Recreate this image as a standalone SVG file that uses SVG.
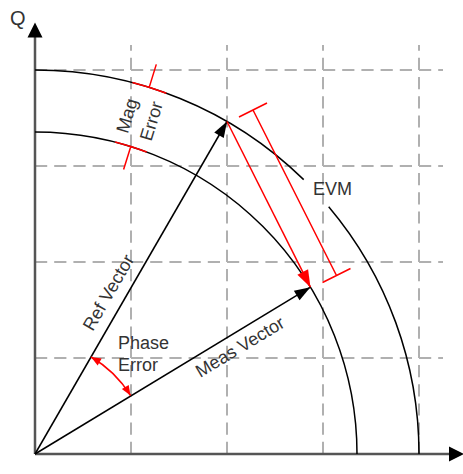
<svg xmlns="http://www.w3.org/2000/svg" width="463" height="474" viewBox="0 0 463 474">
<style>
.grid{stroke:#b0b0b0;stroke-width:2;stroke-dasharray:12.2 7;fill:none}
.axis{stroke:#555;stroke-width:2.5;fill:none}
.arc{stroke:#000;stroke-width:1.5;fill:none}
.vec{stroke:#000;stroke-width:1.5;fill:none}
.red{stroke:#ff0000;stroke-width:1.5;fill:none}
text{font-family:"Liberation Sans",Arial,sans-serif;font-size:18px;fill:#333}
</style>
<defs>
<marker id="ah" viewBox="-17 -7 18 14" refX="0" refY="0" markerWidth="18" markerHeight="14" markerUnits="userSpaceOnUse" orient="auto"><path d="M0,0 L-16,-5.5 L-16,5.5 z" fill="#000"/></marker>
<marker id="rah" viewBox="-18 -7 19 14" refX="0" refY="0" markerWidth="19" markerHeight="14" markerUnits="userSpaceOnUse" orient="auto"><path d="M0,0 L-17,-6 L-17,6 z" fill="#ff0000"/></marker>
<marker id="rsm" viewBox="-11 -5 12 10" refX="0" refY="0" markerWidth="12" markerHeight="10" markerUnits="userSpaceOnUse" orient="auto-start-reverse"><path d="M0,0 L-10,-4 L-10,4 z" fill="#ff0000"/></marker>
</defs>
<g id="grid">
<path class="grid" d="M131,454 V45 M227,454 V45 M323,454 V45 M419,454 V45"/>
<path class="grid" d="M35,358 H443 M35,262 H443 M35,166 H443 M35,70 H443"/>
</g>
<g id="axes">
<path class="axis" d="M35,454 V36"/>
<path d="M35,22.5 L27.5,37.5 L42.5,37.5 z" fill="#000"/>
<path class="axis" d="M35,454 H450"/>
<path d="M464,454 L449,446.5 L449,461.5 z" fill="#000"/>
<text id="q" x="10" y="24.5" style="font-size:20px">Q</text>
</g>
<g id="arcs">
<path class="arc" d="M35,70 A384,384 0 0 1 303.7,179.6"/>
<path class="arc" d="M328.7,206.7 A384,384 0 0 1 419,454"/>
<path class="arc" d="M35,132 A322,322 0 0 1 357,454"/>
</g>
<g id="connectors">
<path class="vec" d="M35,454 L227,121.5" marker-end="url(#ah)"/>
<path class="vec" d="M35,454 L310.4,287.2" marker-end="url(#ah)"/>
<path class="red" d="M227,121.5 L310.4,287.2" marker-end="url(#rah)"/>
<path class="red" d="M253,110 L336.5,275.5 M239,117 L267,103 M322.5,282.5 L350.5,268.5"/>
<path class="red" d="M91,357 A112,112 0 0 1 130.5,395.5" marker-start="url(#rsm)" marker-end="url(#rsm)"/>
</g>
<g id="mag-error">
<path class="red" d="M149.2,87.4 L156.3,64.4 M132.5,82.6 A384,384 0 0 1 166.3,93.2"/>
<path class="red" d="M130.8,146.5 L123.6,169.5 M115.1,142.1 A322,322 0 0 1 146.7,152"/>
<text transform="translate(128,116) rotate(-73)" text-anchor="middle" y="5">Mag</text>
<text transform="translate(151,121) rotate(-73)" text-anchor="middle" y="6.5">Error</text>
</g>
<g id="labels">
<text transform="translate(108.5,292.5) rotate(-60)" text-anchor="middle" y="6">Ref Vector</text>
<text transform="translate(240,347) rotate(-31)" text-anchor="middle" y="6">Meas Vector</text>
<text x="118" y="348.5">Phase</text>
<text x="118" y="370.5">Error</text>
<text x="313" y="195">EVM</text>
</g>
</svg>
